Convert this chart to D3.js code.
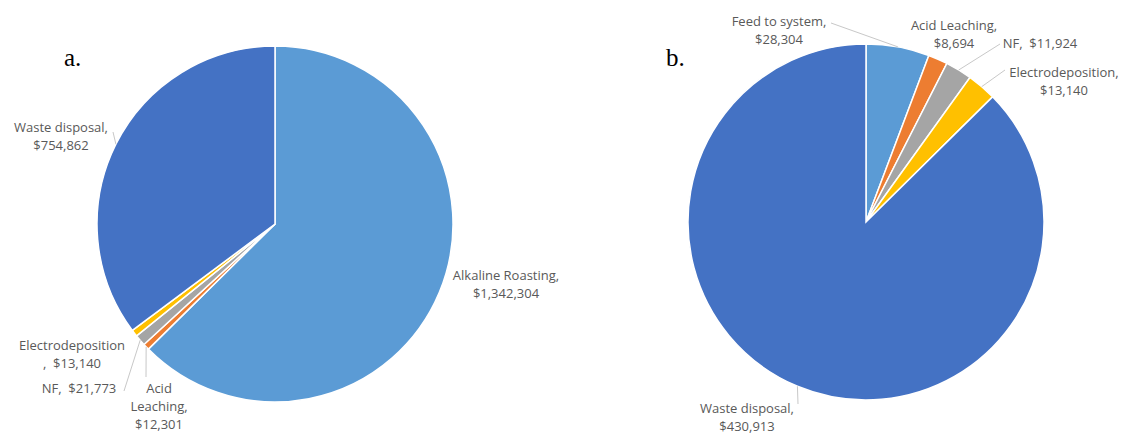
<!DOCTYPE html>
<html lang="en">
<head>
  <meta charset="UTF-8">
  <title>Cost breakdown pies</title>
  <script src="https://d3js.org/d3.v7.min.js"></script>
  <style>
    body {
      margin: 0;
      background: #fff;
    }
    .slice {
      stroke: #fff;
      stroke-width: 1.5px;
    }
    .label {
      font-family: "Open Sans", sans-serif;
      font-size: 13px;
      fill: #595959;
      white-space: pre;
    }
    .leader {
      stroke: #c8c8c8;
      stroke-width: 1px;
      fill: none;
    }
    .panel-tag {
      font-family: "Liberation Serif", serif;
      font-size: 25px;
      fill: #000;
    }
  </style>
</head>
<body>
<svg width="1123" height="434"></svg>

<script>
// data
const leftCategories = ["Alkaline Roasting", "Acid Leaching", "NF", "Electrodeposition", "Waste disposal"];
const leftValues = [1342304, 12301, 21773, 13140, 754862];

const rightCategories = ["Feed to system", "Acid Leaching", "NF", "Electrodeposition", "Waste disposal"];
const rightValues = [28304, 8694, 11924, 13140, 430913];

const sliceColors = ["#5b9bd5", "#ed7d31", "#a5a5a5", "#ffc000", "#4472c4"];

// label text lines ({v} = formatted value), in slice order
const leftLabelLines = [
  ["Alkaline Roasting,", "{v}"],
  ["Acid", "Leaching,", "{v}"],
  ["NF,  {v}"],
  ["Electrodeposition", ",  {v}"],
  ["Waste disposal,", "{v}"]
];
const rightLabelLines = [
  ["Feed to system,", "{v}"],
  ["Acid Leaching,", "{v}"],
  ["NF,  {v}"],
  ["Electrodeposition,", "{v}"],
  ["Waste disposal,", "{v}"]
];

// layout: label anchor (centre x, first baseline) and leader start, null = no leader
const leftLabelPos = [
  { x: 506, y: 280, lead: null },
  { x: 159, y: 393, lead: [146, 377] },
  { x: 79,  y: 393, lead: [124, 391] },
  { x: 72,  y: 350, lead: null },
  { x: 61,  y: 132, lead: [113, 132] }
];
const rightLabelPos = [
  { x: 779,  y: 26,  lead: [831, 23] },
  { x: 954,  y: 30,  lead: null },
  { x: 1040, y: 48,  lead: [1000, 44] },
  { x: 1064, y: 77,  lead: [1005, 70] },
  { x: 747,  y: 413, lead: [798, 404] }
];

const svg = d3.select("svg");
const fmt = d3.format("$,");
const radius = 178;
const lineH = 18;

function drawPie(opts) {
  const g = svg.append("g")
    .attr("transform", `translate(${opts.cx},${opts.cy})`);

  const color = d3.scaleOrdinal().domain(opts.categories).range(sliceColors);

  const pie = d3.pie()
    .sort(null)
    .value(d => d.value);

  const rows = opts.categories.map((c, i) => ({ name: c, value: opts.values[i], i: i }));
  const arcs = pie(rows);

  const arc = d3.arc().innerRadius(0).outerRadius(radius);
  const edge = d3.arc().innerRadius(radius).outerRadius(radius);

  g.selectAll(".slice")
    .data(arcs)
    .enter().append("path")
    .attr("class", "slice")
    .attr("d", arc)
    .attr("fill", d => color(d.data.name));

  // leader lines
  arcs.forEach(a => {
    const pos = opts.labelPos[a.data.i];
    if (!pos.lead) return;
    const p = edge.centroid(a);
    g.append("line")
      .attr("class", "leader")
      .attr("x1", pos.lead[0] - opts.cx)
      .attr("y1", pos.lead[1] - opts.cy)
      .attr("x2", p[0])
      .attr("y2", p[1]);
  });

  // labels
  arcs.forEach(a => {
    const pos = opts.labelPos[a.data.i];
    const lines = opts.labelLines[a.data.i];
    const t = svg.append("text")
      .attr("class", "label")
      .attr("text-anchor", "middle");
    lines.forEach((ln, k) => {
      t.append("tspan")
        .attr("x", pos.x)
        .attr("y", pos.y + k * lineH)
        .text(ln.replace("{v}", fmt(a.data.value)));
    });
  });

  svg.append("text")
    .attr("class", "panel-tag")
    .attr("x", opts.tagX)
    .attr("y", 66)
    .text(opts.tag);
}

drawPie({
  cx: 275, cy: 224,
  categories: leftCategories, values: leftValues,
  labelLines: leftLabelLines, labelPos: leftLabelPos,
  tag: "a.", tagX: 64
});

drawPie({
  cx: 866, cy: 222,
  categories: rightCategories, values: rightValues,
  labelLines: rightLabelLines, labelPos: rightLabelPos,
  tag: "b.", tagX: 666
});
</script>
</body>
</html>
